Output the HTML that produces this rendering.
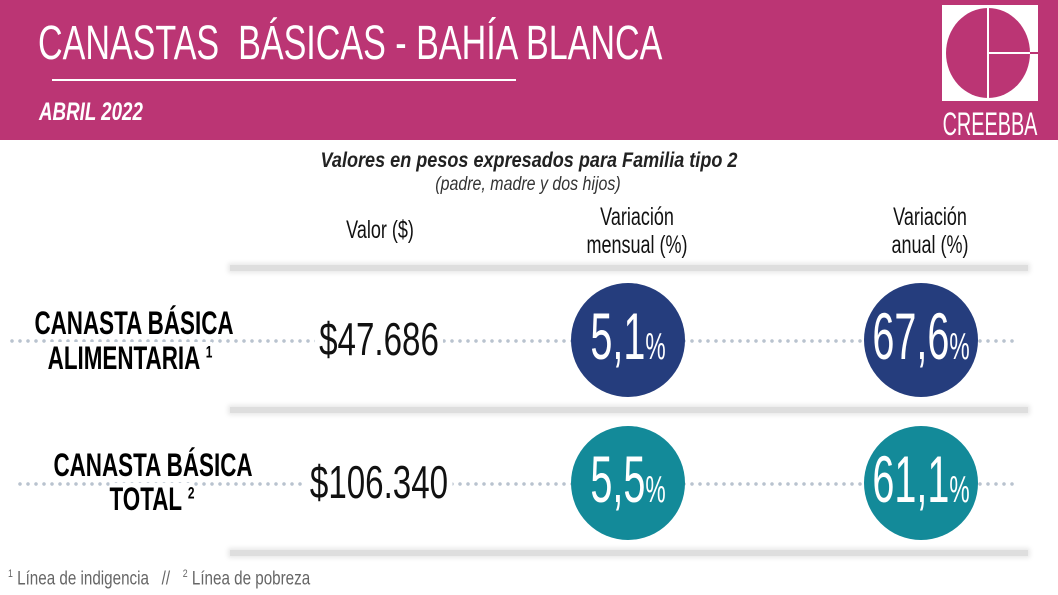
<!DOCTYPE html>
<html><head><meta charset="utf-8"><style>
body{margin:0;width:1058px;height:595px;overflow:hidden;background:#fff;font-family:"Liberation Sans",sans-serif;position:relative}
.a{position:absolute;white-space:nowrap;line-height:1}
.c{position:absolute;white-space:nowrap;line-height:1;transform:translateX(-50%) scaleX(.72)}
.bar{position:absolute;left:230px;width:798px;height:6px;background:#dedede;box-shadow:0 0 5px 2px #e8e8e8}
.dot{position:absolute;height:4px;background-image:radial-gradient(circle,#b9c3cf 1.6px,transparent 2px);background-size:8px 4px}
.circ{position:absolute;width:114px;height:114px;border-radius:50%}
.num{color:#fff;font-size:66px;transform:translateX(-50%) scaleX(.6)}
.num small{font-size:38px}
</style></head><body>
<div style="position:absolute;left:0;top:0;width:1058px;height:140px;background:#bb3574"></div>
<div class="a" style="left:38px;top:20px;color:#fff;font-size:48px;transform:scaleX(.71);transform-origin:0 0">CANASTAS&nbsp; BÁSICAS - BAHÍA BLANCA</div>
<div style="position:absolute;left:52px;top:79px;width:464px;height:2px;background:#fff"></div>
<div class="a" style="left:39px;top:100px;color:#fff;font-size:25px;font-style:italic;font-weight:bold;transform:scaleX(.75);transform-origin:0 0">ABRIL 2022</div>
<div style="position:absolute;left:942px;top:5px;width:96px;height:96px;background:#fff"></div>
<svg style="position:absolute;left:942px;top:5px" width="96" height="96"><ellipse cx="46" cy="48" rx="42" ry="45" fill="#bb3574"/><line x1="46" y1="3" x2="46" y2="93" stroke="#fff" stroke-width="2"/><line x1="46" y1="48" x2="96" y2="48" stroke="#fff" stroke-width="2"/><rect x="88" y="0" width="8" height="96" fill="#fff"/><line x1="88" y1="48" x2="96" y2="48" stroke="#bb3574" stroke-width="2"/></svg>
<div class="c" style="left:990px;top:108px;color:#fff;font-size:32px;transform:translateX(-50%) scaleX(.62)">CREEBBA</div>

<div class="c" style="left:529px;top:150px;font-size:21px;font-style:italic;font-weight:bold;color:#222;transform:translateX(-50%) scaleX(.86)">Valores en pesos expresados para Familia tipo 2</div>
<div class="c" style="left:528px;top:175px;font-size:19px;font-style:italic;color:#333;transform:translateX(-50%) scaleX(.84)">(padre, madre y dos hijos)</div>
<div class="c" style="left:380px;top:218px;font-size:25px;color:#111">Valor ($)</div>
<div class="c" style="left:637px;top:205px;font-size:25px;color:#111">Variación</div>
<div class="c" style="left:637px;top:233px;font-size:25px;color:#111">mensual (%)</div>
<div class="c" style="left:930px;top:205px;font-size:25px;color:#111">Variación</div>
<div class="c" style="left:930px;top:233px;font-size:25px;color:#111">anual (%)</div>

<div class="bar" style="top:265px"></div>
<div class="bar" style="top:407px"></div>
<div class="bar" style="top:550px"></div>

<div class="dot" style="left:8px;top:339px;width:1010px"></div>
<div class="dot" style="left:16px;top:482px;width:1002px"></div>

<div class="c" style="left:134px;top:307px;font-size:32px;font-weight:bold;color:#000;transform:translateX(-50%) scaleX(.7)">CANASTA BÁSICA</div>
<div class="c" style="left:130px;top:342px;font-size:32px;font-weight:bold;color:#000;background:#fff;transform:translateX(-50%) scaleX(.7)">ALIMENTARIA <sup style="font-size:17px">1</sup></div>
<div class="c" style="left:153px;top:449px;font-size:32px;font-weight:bold;color:#000;transform:translateX(-50%) scaleX(.7)">CANASTA BÁSICA</div>
<div class="c" style="left:152px;top:483px;font-size:32px;font-weight:bold;color:#000;background:#fff;transform:translateX(-50%) scaleX(.7)">TOTAL <sup style="font-size:17px">2</sup></div>
<div class="c" style="left:379px;top:316px;font-size:46px;color:#111;background:#fff;padding:0 6px">$47.686</div>
<div class="c" style="left:379px;top:459px;font-size:46px;color:#111;background:#fff;padding:0 6px">$106.340</div>

<div class="circ" style="left:571px;top:283px;background:#253d7d"></div>
<div class="circ" style="left:864px;top:283px;background:#253d7d"></div>
<div class="circ" style="left:571px;top:426px;background:#138a99"></div>
<div class="circ" style="left:864px;top:426px;background:#138a99"></div>
<div class="c num" style="left:628px;top:303px">5,1<small>%</small></div>
<div class="c num" style="left:921px;top:303px">67,6<small>%</small></div>
<div class="c num" style="left:628px;top:446px">5,5<small>%</small></div>
<div class="c num" style="left:921px;top:446px">61,1<small>%</small></div>

<div class="a" style="left:8px;top:569px;font-size:19px;color:#666;transform:scaleX(.8);transform-origin:0 0"><sup style="font-size:11px">1</sup> Línea de indigencia &nbsp; // &nbsp; <sup style="font-size:11px">2</sup> Línea de pobreza</div>
</body></html>
